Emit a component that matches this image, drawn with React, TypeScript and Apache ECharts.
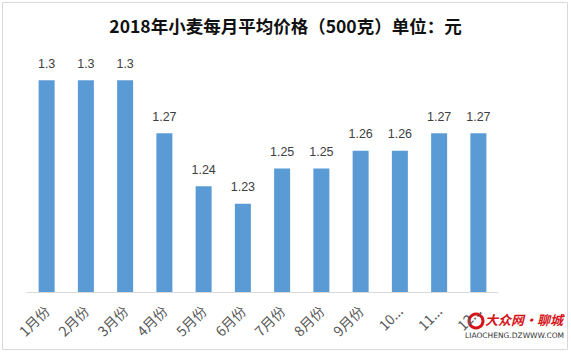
import React, { useEffect, useRef } from "react";
import * as echarts from "echarts";

const categories = ["1月份", "2月份", "3月份", "4月份", "5月份", "6月份", "7月份", "8月份", "9月份", "10月份", "11月份", "12月份"];
const prices = [1.3, 1.3, 1.3, 1.27, 1.24, 1.23, 1.25, 1.25, 1.26, 1.26, 1.27, 1.27];
const titleText = "2018年小麦每月平均价格（500克）单位：元";

export default function App() {
  const ref = useRef<HTMLDivElement>(null);
  useEffect(() => {
    document.body.style.margin = "0";
    const chart = echarts.init(ref.current!, null, { renderer: "svg" });
    chart.setOption({
      animation: false,
      backgroundColor: "#ffffff",
      title: {
        text: titleText,
        left: "center",
        top: 12,
        textStyle: { fontFamily: "Noto Sans CJK SC", fontWeight: "bold", fontSize: 17.5, color: "#111111" },
      },
      grid: { left: 27, right: 73, top: 45, bottom: 60 },
      xAxis: {
        type: "category",
        data: categories,
        axisLine: { show: true, lineStyle: { color: "#d9d9d9", width: 1 } },
        axisTick: { show: false },
        axisLabel: {
          rotate: 45,
          interval: 0,
          fontSize: 14,
          color: "#595959",
          fontFamily: "Noto Sans CJK SC",
          width: 38,
          overflow: "truncate",
          ellipsis: "...",
          margin: 16,
        },
      },
      yAxis: {
        type: "value",
        min: 1.18,
        max: 1.32,
        show: false,
        splitLine: { show: false },
      },
      series: [
        {
          type: "bar",
          data: prices,
          barWidth: 16,
          itemStyle: { color: "#5b9bd5" },
          label: {
            show: true,
            position: "top",
            distance: 10,
            fontSize: 12.5,
            color: "#404040",
            fontFamily: "Liberation Sans",
          },
        },
      ],
      graphic: [
        {
          type: "rect",
          shape: { x: 2.5, y: 2.5, width: 565, height: 347 },
          style: { fill: "none", stroke: "#d9d9d9", lineWidth: 1 },
          silent: true,
        },
        {
          type: "rect",
          shape: { x: 464, y: 310, width: 96, height: 30 },
          style: { fill: "rgba(255,255,255,0.85)" },
        },
        {
          type: "circle",
          shape: { cx: 476, cy: 321, r: 7 },
          style: { fill: "#ffffff", stroke: "#d7141a", lineWidth: 3 },
        },
        {
          type: "text",
          x: 485,
          y: 313,
          style: { text: "大众网·聊城", fontSize: 13, fontWeight: "bold", fontStyle: "italic", fill: "#d7141a", fontFamily: "Noto Sans CJK SC" },
        },
        {
          type: "text",
          x: 465,
          y: 331,
          style: { text: "LIAOCHENG.DZWWW.COM", fontSize: 7.5, fill: "#333333", fontFamily: "DejaVu Sans" },
        },
      ],
    });
    return () => chart.dispose();
  }, []);
  return <div ref={ref} style={{ width: 571, height: 352, position: "absolute", left: 0, top: 0 }} />;
}
